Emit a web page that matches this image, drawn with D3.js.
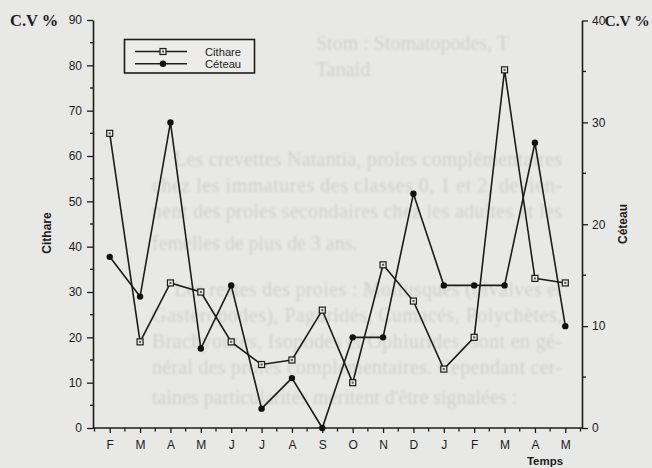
<!DOCTYPE html>
<html>
<head>
<meta charset="utf-8">
<script src="https://cdn.jsdelivr.net/npm/d3@7"></script>
<style>
  html, body { margin: 0; padding: 0; background: #e8e8e6; }
  svg { display: block; }
</style>
</head>
<body>
<svg id="chart" width="652" height="468"></svg>
<script>
// Monthly coefficient of variation (C.V %) for two species
const months = ["F", "M", "A", "M", "J", "J", "A", "S", "O", "N", "D", "J", "F", "M", "A", "M"];
const cithare = [65, 19, 32, 30, 19, 14, 15, 26, 10, 36, 28, 13, 20, 79, 33, 32];
const ceteau  = [16.8, 12.9, 30, 7.8, 14, 1.9, 4.9, 0, 8.9, 8.9, 23, 14, 14, 14, 28, 10];
const leftTicks = [0, 10, 20, 30, 40, 50, 60, 70, 80, 90];
const rightTicks = [0, 10, 20, 30, 40];
const seriesNames = ["Cithare", "Céteau"];

// Faint text of the printed page behind the chart
const pageText = [
  "Stom : Stomatopodes, T",
  "Tanaid",
  "Les crevettes Natantia, proies complémentaires",
  "chez les immatures des classes 0, 1 et 2, devien-",
  "nent des proies secondaires chez les adultes et les",
  "femelles de plus de 3 ans.",
  "Les restes des proies : Mollusques (bivalves et",
  "Gastéropodes), Paguridés, Cumacés, Polychètes,",
  "Brachyoures, Isopodes et Ophiurides, sont en gé-",
  "néral des proies complémentaires. Cependant cer-",
  "taines particularités méritent d'être signalées :"
];

const svg = d3.select("#chart");
const BG = "#e8e8e6";
const INK = "#1c1c1c";

const plot = { left: 93, right: 582, top: 20, bottom: 428 };

// page text layout: [x, baseline, justified width or 0]
const pageLayout = [
  [316, 50, 0], [316, 76, 0],
  [174, 166, 388], [152, 192, 410], [152, 218, 410], [152, 250, 0],
  [174, 296, 388], [152, 322, 410], [152, 348, 410], [152, 374, 410], [152, 404, 0]
];
const defs = svg.append("defs");
defs.append("filter").attr("id", "soft")
  .append("feGaussianBlur").attr("stdDeviation", 0.9);

const page = svg.append("g").attr("filter", "url(#soft)");
pageText.forEach((t, i) => {
  const [x, y, w] = pageLayout[i];
  const el = page.append("text")
    .attr("x", x).attr("y", y)
    .attr("font-family", "Liberation Serif, Times New Roman, serif")
    .attr("font-size", 20)
    .attr("fill", "#cfcfcd")
    .text(t);
  if (w) el.attr("textLength", w).attr("lengthAdjust", "spacing");
});

// Scales
const x = d3.scalePoint()
  .domain(d3.range(months.length))
  .range([plot.left, plot.right])
  .padding(0.55);
const yL = d3.scaleLinear().domain([0, 90]).range([plot.bottom, plot.top]);
const yR = d3.scaleLinear().domain([0, 40]).range([plot.bottom, plot.top + 0.5]);

const tickFont = "Liberation Sans, Arial, Helvetica, sans-serif";

function styleAxis(g) {
  g.selectAll("path.domain").attr("stroke", INK).attr("stroke-width", 1.6);
  g.selectAll(".tick line").attr("stroke", INK).attr("stroke-width", 1.3);
  g.selectAll(".tick text").attr("fill", INK)
    .attr("font-family", tickFont).attr("font-size", 12);
}

// Left axis
const gL = svg.append("g").attr("transform", `translate(${plot.left},0)`)
  .call(d3.axisLeft(yL).tickValues(leftTicks).tickSize(6).tickSizeOuter(0).tickPadding(5))
  .call(styleAxis);
gL.selectAll(".minor").data(d3.range(5, 90, 10)).enter().append("line")
  .attr("x1", -3).attr("x2", 0)
  .attr("y1", d => yL(d)).attr("y2", d => yL(d))
  .attr("stroke", INK).attr("stroke-width", 1.3);

// Right axis
const gR = svg.append("g").attr("transform", `translate(${plot.right},0)`)
  .call(d3.axisRight(yR).tickValues(rightTicks).tickSize(6).tickSizeOuter(0).tickPadding(4))
  .call(styleAxis);
gR.selectAll(".minor").data(d3.range(5, 40, 10)).enter().append("line")
  .attr("x1", 0).attr("x2", 4)
  .attr("y1", d => yR(d)).attr("y2", d => yR(d))
  .attr("stroke", INK).attr("stroke-width", 1.3);

// Bottom axis
const gB = svg.append("g").attr("transform", `translate(0,${plot.bottom})`)
  .call(d3.axisBottom(x).tickFormat(i => months[i]).tickSize(5).tickSizeOuter(0).tickPadding(7))
  .call(styleAxis);
gB.select("path.domain").attr("d", `M${plot.left},0H${plot.right}`);
const step = x.step();
gB.selectAll(".minor").data(d3.range(-1, months.length)).enter().append("line")
  .attr("x1", d => x(Math.max(d, 0)) + (d < 0 ? -step / 2 : step / 2))
  .attr("x2", d => x(Math.max(d, 0)) + (d < 0 ? -step / 2 : step / 2))
  .attr("y1", 0).attr("y2", 3.5)
  .attr("stroke", INK).attr("stroke-width", 1.3);

// Lines
const lineL = d3.line().x((d, i) => x(i)).y(d => yL(d));
const lineR = d3.line().x((d, i) => x(i)).y(d => yR(d));

svg.append("path").datum(ceteau).attr("d", lineR)
  .attr("fill", "none").attr("stroke", INK).attr("stroke-width", 1.6);
svg.append("path").datum(cithare).attr("d", lineL)
  .attr("fill", "none").attr("stroke", INK).attr("stroke-width", 1.6);

function squareMarker(g, cx, cy) {
  g.append("rect").attr("x", cx - 3).attr("y", cy - 3)
    .attr("width", 6).attr("height", 6)
    .attr("fill", BG).attr("stroke", INK).attr("stroke-width", 1.2);
  g.append("rect").attr("x", cx - 1).attr("y", cy - 1)
    .attr("width", 2).attr("height", 2).attr("fill", "#555");
}
function dotMarker(g, cx, cy) {
  g.append("circle").attr("cx", cx).attr("cy", cy).attr("r", 3.2).attr("fill", "#111");
}

const mk = svg.append("g");
ceteau.forEach((v, i) => dotMarker(mk, x(i), yR(v)));
cithare.forEach((v, i) => squareMarker(mk, x(i), yL(v)));

// Legend
const lg = svg.append("g");
lg.append("rect").attr("x", 124.5).attr("y", 39.5).attr("width", 130).attr("height", 33.5)
  .attr("fill", "#ececea").attr("stroke", INK).attr("stroke-width", 1.6);
[[51.5, "sq"], [63.8, "dot"]].forEach(([ly, kind], k) => {
  lg.append("line").attr("x1", 135).attr("x2", 187).attr("y1", ly).attr("y2", ly)
    .attr("stroke", INK).attr("stroke-width", 1.6);
  if (kind === "sq") squareMarker(lg, 163, ly); else dotMarker(lg, 163, ly);
  lg.append("text").attr("x", 205).attr("y", ly + 4)
    .attr("font-family", tickFont).attr("font-size", 11.2).attr("fill", INK)
    .text(seriesNames[k]);
});

// Titles
const serif = "Liberation Serif, Times New Roman, serif";
svg.append("text").attr("x", 10).attr("y", 26)
  .attr("font-family", serif).attr("font-weight", "bold").attr("font-size", 16.5)
  .attr("fill", INK).text("C.V %");
svg.append("text").attr("x", 604.5).attr("y", 26)
  .attr("font-family", serif).attr("font-weight", "bold").attr("font-size", 15.5)
  .attr("fill", INK).text("C.V %");

svg.append("text")
  .attr("transform", "translate(51,233) rotate(-90)")
  .attr("text-anchor", "middle")
  .attr("font-family", tickFont).attr("font-weight", "bold").attr("font-size", 12)
  .attr("fill", INK).text(seriesNames[0]);
svg.append("text")
  .attr("transform", "translate(627,224) rotate(-90)")
  .attr("text-anchor", "middle")
  .attr("font-family", tickFont).attr("font-weight", "bold").attr("font-size", 12)
  .attr("fill", INK).text(seriesNames[1]);
svg.append("text").attr("x", 545).attr("y", 465)
  .attr("text-anchor", "middle")
  .attr("font-family", tickFont).attr("font-weight", "bold").attr("font-size", 11.5)
  .attr("fill", INK).text("Temps");
</script>
</body>
</html>
